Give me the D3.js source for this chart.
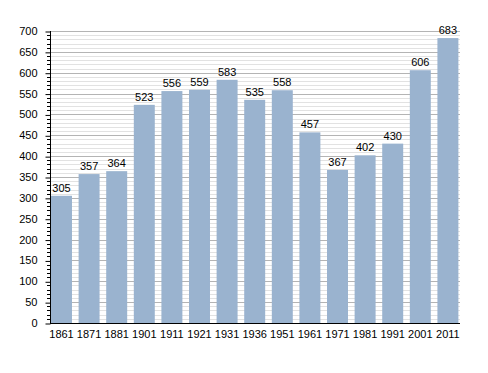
<!DOCTYPE html>
<html>
<head>
<meta charset="utf-8">
<script src="https://d3js.org/d3.v7.min.js"></script>
<style>
  body { margin: 0; background: #fff; }
  text { font-family: "Liberation Sans", Arial, sans-serif; font-size: 11px; fill: #000; }
</style>
</head>
<body>
<div id="chart"></div>
<script>
const years = ['1861','1871','1881','1901','1911','1921','1931','1936','1951','1961','1971','1981','1991','2001','2011'];
const population = [305, 357, 364, 523, 556, 559, 583, 535, 558, 457, 367, 402, 430, 606, 683];
const yTicks = [0, 50, 100, 150, 200, 250, 300, 350, 400, 450, 500, 550, 600, 650, 700];

const width = 488, height = 373;
const plotLeft = 50, plotRight = 460, plotTop = 31, plotBottom = 323;

const svg = d3.select('#chart').append('svg')
  .attr('width', width)
  .attr('height', height);

const y = d3.scaleLinear().domain([0, 700]).range([plotBottom, plotTop]);
const x = d3.scaleBand().domain(years).range([49.9, 459.5])
  .paddingInner(0.24).paddingOuter(0.04);

// minor grid every 10
const minor = d3.range(0, 701, 10).filter(v => v % 50 !== 0);
svg.append('g').selectAll('line').data(minor).join('line')
  .attr('x1', plotLeft).attr('x2', plotRight)
  .attr('y1', d => Math.round(y(d)) + 0.5).attr('y2', d => Math.round(y(d)) + 0.5)
  .attr('stroke', '#e2e2e2').attr('stroke-width', 1);

// major grid every 50
svg.append('g').selectAll('line').data(yTicks.slice(1)).join('line')
  .attr('x1', plotLeft).attr('x2', plotRight)
  .attr('y1', d => Math.round(y(d)) + 0.5).attr('y2', d => Math.round(y(d)) + 0.5)
  .attr('stroke', '#b4b4b4').attr('stroke-width', 1);

// bars
svg.append('g').selectAll('rect').data(population).join('rect')
  .attr('x', (d, i) => x(years[i]))
  .attr('y', d => y(d))
  .attr('width', x.bandwidth())
  .attr('height', d => plotBottom - y(d))
  .attr('fill', '#9ab3cf');

// value labels
svg.append('g').selectAll('text').data(population).join('text')
  .attr('x', (d, i) => x(years[i]) + x.bandwidth() / 2)
  .attr('y', d => y(d) - 4)
  .attr('text-anchor', 'middle')
  .text(d => d);

// y axis minor ticks
svg.append('g').selectAll('line').data(minor).join('line')
  .attr('x1', plotLeft - 3).attr('x2', plotLeft)
  .attr('y1', d => Math.round(y(d)) + 0.5).attr('y2', d => Math.round(y(d)) + 0.5)
  .attr('stroke', '#000');

// y axis
const yAxis = d3.axisLeft(y).tickValues(yTicks).tickSize(5).tickPadding(8).tickFormat(d3.format('d'));
const gy = svg.append('g').attr('transform', `translate(${plotLeft + 0.5},0)`).call(yAxis);
gy.select('.domain').attr('d', `M0,${plotTop}V${plotBottom + 0.5}`).attr('stroke', '#000');
gy.selectAll('.tick line').attr('transform', 'translate(0,0.5)');
gy.selectAll('text').style('font-family', '"Liberation Sans", Arial, sans-serif').style('font-size', '11px');

// x axis
const xAxis = d3.axisBottom(x).tickSize(0).tickPadding(7);
const gx = svg.append('g').attr('transform', `translate(0,${plotBottom + 0.5})`).call(xAxis);
gx.select('.domain').attr('d', `M${plotLeft},0H${plotRight}`).attr('stroke', '#000');
gx.selectAll('text').style('font-family', '"Liberation Sans", Arial, sans-serif').style('font-size', '11px');
</script>
</body>
</html>
